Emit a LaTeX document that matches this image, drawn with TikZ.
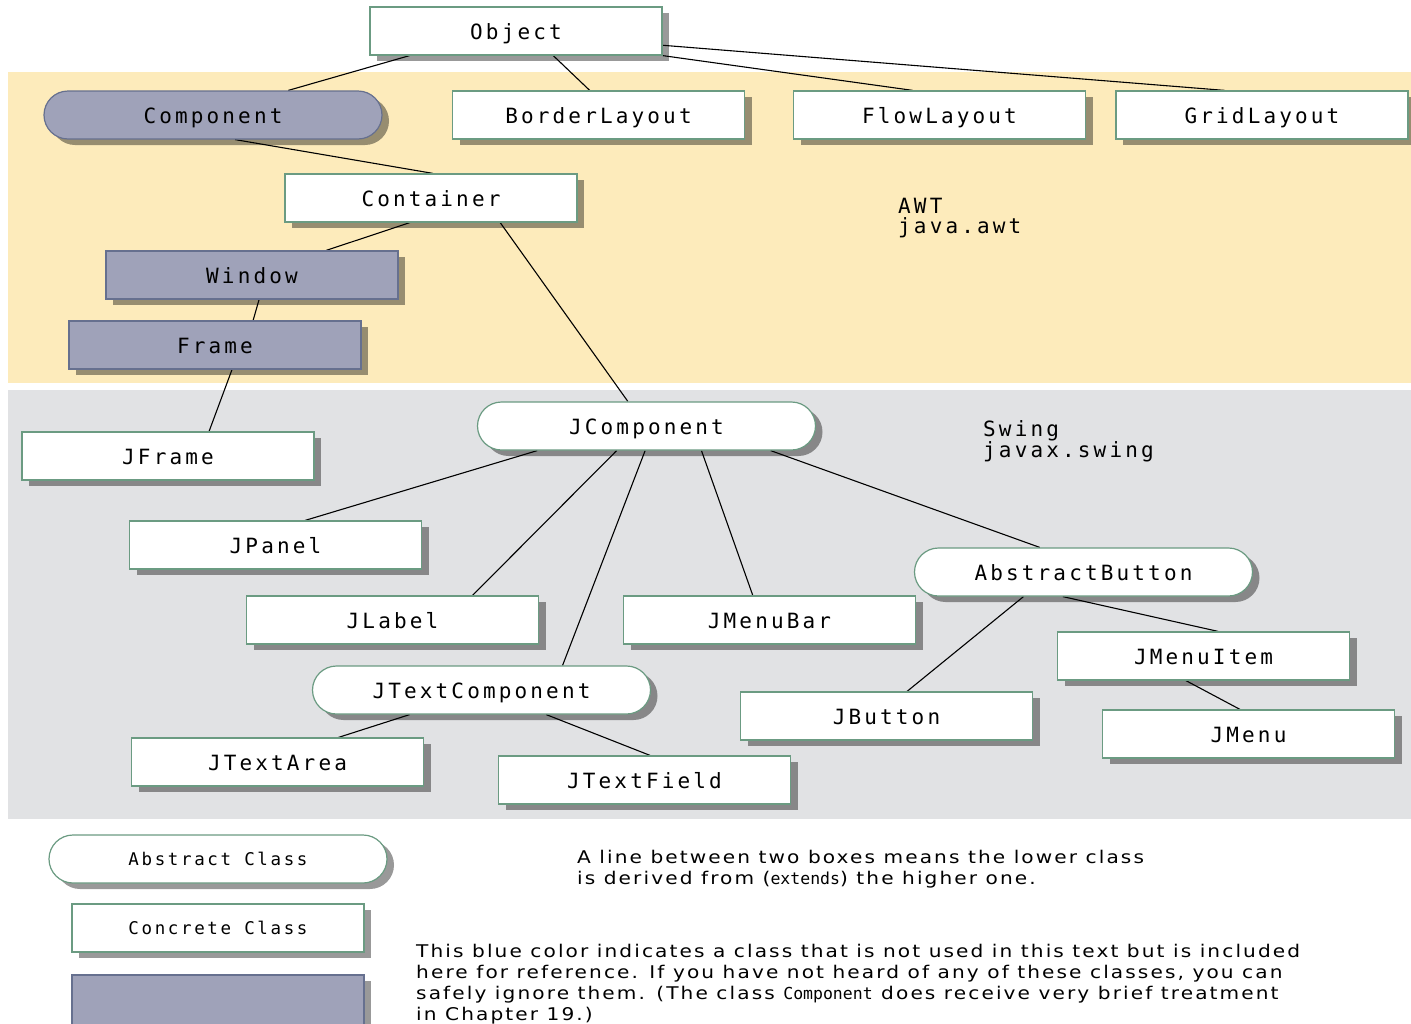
\documentclass[tikz,border=0pt]{standalone}
\usepackage{fontspec}
\usetikzlibrary{calc,shadows}
\newfontfamily\monof[LetterSpace=15]{DejaVu Sans Mono}
\newfontfamily\monon{DejaVu Sans Mono}
\newfontfamily\bodyf[FakeStretch=1.15,LetterSpace=12]{DejaVu Sans}
\definecolor{awtband}{HTML}{FDEBBB}
\definecolor{swingband}{HTML}{E1E2E4}
\definecolor{blueclass}{HTML}{9FA2B9}
\definecolor{blueborder}{HTML}{66708F}
\definecolor{boxborder}{HTML}{6B9B82}
\pgfdeclarelayer{bg}
\pgfsetlayers{bg,main}
\tikzset{
  x=1pt, y=-1pt,
  shad/.style={drop shadow={shadow xshift=7pt, shadow yshift=-6pt, opacity=0.4, fill=black}},
  concrete/.style={draw=boxborder, line width=1.2pt, fill=white, shad, minimum width=292pt, minimum height=48pt, inner sep=0pt,
    text height=17pt, text depth=0pt, font=\monof\fontsize{21}{24}\selectfont},
  abstract/.style={concrete, rounded corners=24pt, minimum width=338pt},
  legfont/.style={text height=13pt, font=\monof\fontsize{17.5}{20}\selectfont},
  blueb/.style={draw=blueborder, fill=blueclass},
  edge/.style={line width=1.1pt, black},
  lbl/.style={inner sep=0pt, anchor=north west, align=left, font=\monof\fontsize{21}{20}\selectfont},
  note/.style={inner sep=0pt, anchor=north west, align=left, font=\bodyf\fontsize{17.5}{21}\selectfont},
}
\begin{document}
\begin{tikzpicture}
\useasboundingbox (0,0) rectangle (1411,1023);
\begin{pgfonlayer}{bg}
\fill[awtband] (8,72) rectangle (1411,383);
\fill[swingband] (8,390) rectangle (1411,819);
\end{pgfonlayer}

% AWT
\node[concrete] (obj) at (516,31) {Object};
\node[abstract, blueb] (comp) at (213,115) {Component};
\node[concrete] (border) at (598.5,115) {BorderLayout};
\node[concrete] (flow) at (939.5,115) {FlowLayout};
\node[concrete] (grid) at (1262,115) {GridLayout};
\node[concrete] (cont) at (431,198) {Container};
\node[concrete, blueb] (win) at (252,275) {Window};
\node[concrete, blueb] (frame) at (215,345) {Frame};
\node[lbl] (awt) at (898,198) {AWT\\java.awt};

% Swing
\node[concrete] (jframe) at (168,456) {JFrame};
\node[abstract] (jcomp) at (646.5,426) {JComponent};
\node[concrete] (jpanel) at (275.5,545) {JPanel};
\node[concrete] (jlabel) at (392.5,620) {JLabel};
\node[concrete] (jmenubar) at (769.5,620) {JMenuBar};
\node[abstract] (absbtn) at (1083.5,572) {AbstractButton};
\node[concrete] (jmenuitem) at (1203.5,656) {JMenuItem};
\node[concrete] (jbutton) at (886.5,716) {JButton};
\node[concrete] (jmenu) at (1248.5,734) {JMenu};
\node[abstract] (jtextcomp) at (481.5,690) {JTextComponent};
\node[concrete] (jtextarea) at (277.5,762) {JTextArea};
\node[concrete] (jtextfield) at (644.5,780) {JTextField};
\node[lbl] (swing) at (983,420) {Swing\\javax.swing};

% Legend
\node[abstract, legfont] (legabs) at (218,859) {Abstract Class};
\node[concrete, legfont] (legcon) at (218,928) {Concrete Class};
\node[concrete, blueb, minimum height=60pt] (legblue) at (218,1005) {};
\node[note] (note1) at (577,850) {A line between two boxes means the lower class\\is derived from ({\monon\fontsize{16.5}{21}\selectfont extends}) the higher one.};
\node[note] (note2) at (416,944) {This blue color indicates a class that is not used in this text but is included\\here for reference. If you have not heard of any of these classes, you can\\safely ignore them. (The class {\monon\fontsize{16.5}{21}\selectfont Component} does receive very brief treatment\\in Chapter 19.)};

\begin{pgfonlayer}{bg}
\draw[edge] ($(obj.south west)!.137!(obj.south east)$) -- ($(comp.north west)!.722!(comp.north east)$);
\draw[edge] ($(obj.south west)!.627!(obj.south east)$) -- ($(border.north west)!.47!(border.north east)$);
\draw[edge] (obj.south east) -- ($(flow.north west)!.409!(flow.north east)$);
\draw[edge] ($(obj.north east)!.79!(obj.south east)$) -- ($(grid.north west)!.373!(grid.north east)$);
\draw[edge] ($(comp.south west)!.565!(comp.south east)$) -- ($(cont.north west)!.507!(cont.north east)$);
\draw[edge] ($(cont.south west)!.428!(cont.south east)$) -- ($(win.north west)!.753!(win.north east)$);
\draw[edge] ($(cont.south west)!.736!(cont.south east)$) -- ($(jcomp.north west)!.445!(jcomp.north east)$);
\draw[edge] ($(win.south west)!.524!(win.south east)$) -- ($(frame.north west)!.63!(frame.north east)$);
\draw[edge] ($(frame.south west)!.558!(frame.south east)$) -- ($(jframe.north west)!.64!(jframe.north east)$);
\draw[edge] ($(jcomp.south west)!.178!(jcomp.south east)$) -- ($(jpanel.north west)!.601!(jpanel.north east)$);
\draw[edge] ($(jcomp.south west)!.412!(jcomp.south east)$) -- ($(jlabel.north west)!.773!(jlabel.north east)$);
\draw[edge] ($(jcomp.south west)!.496!(jcomp.south east)$) -- ($(jtextcomp.north west)!.739!(jtextcomp.north east)$);
\draw[edge] ($(jcomp.south west)!.662!(jcomp.south east)$) -- ($(jmenubar.north west)!.443!(jmenubar.north east)$);
\draw[edge] ($(jcomp.south west)!.866!(jcomp.south east)$) -- ($(absbtn.north west)!.371!(absbtn.north east)$);
\draw[edge] ($(absbtn.south west)!.323!(absbtn.south east)$) -- ($(jbutton.north west)!.57!(jbutton.north east)$);
\draw[edge] ($(absbtn.south west)!.439!(absbtn.south east)$) -- ($(jmenuitem.north west)!.55!(jmenuitem.north east)$);
\draw[edge] ($(jmenuitem.south west)!.44!(jmenuitem.south east)$) -- ($(jmenu.north west)!.471!(jmenu.north east)$);
\draw[edge] ($(jtextcomp.south west)!.288!(jtextcomp.south east)$) -- ($(jtextarea.north west)!.708!(jtextarea.north east)$);
\draw[edge] ($(jtextcomp.south west)!.691!(jtextcomp.south east)$) -- ($(jtextfield.north west)!.519!(jtextfield.north east)$);
\end{pgfonlayer}
\end{tikzpicture}
\end{document}
